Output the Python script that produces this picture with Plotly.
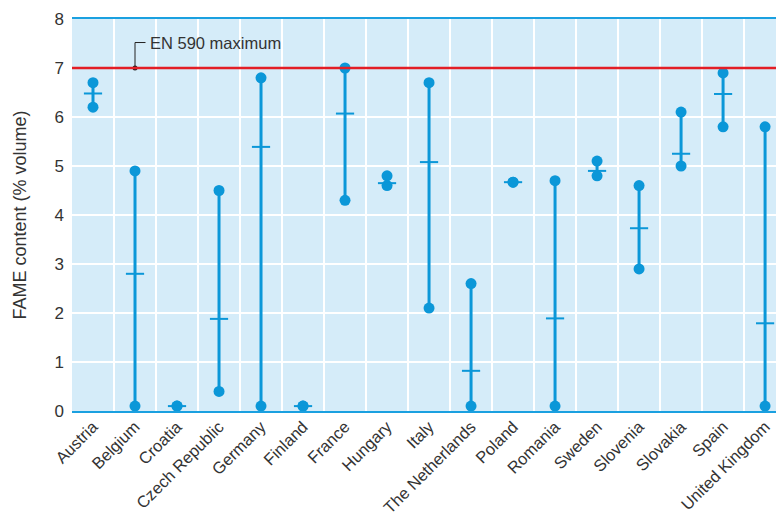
import plotly.graph_objects as go

countries = ["Austria", "Belgium", "Croatia", "Czech Republic", "Germany", "Finland",
             "France", "Hungary", "Italy", "The Netherlands", "Poland", "Romania",
             "Sweden", "Slovenia", "Slovakia", "Spain", "United Kingdom"]
fame_min = [6.2, 0.1, 0.1, 0.4, 0.1, 0.1, 4.3, 4.6, 2.1, 0.1, 4.67, 0.1, 4.8, 2.9, 5.0, 5.8, 0.1]
fame_max = [6.7, 4.9, 0.1, 4.5, 6.8, 0.1, 7.0, 4.8, 6.7, 2.6, 4.67, 4.7, 5.1, 4.6, 6.1, 6.9, 5.8]
fame_mean = [6.48, 2.8, 0.1, 1.88, 5.39, 0.1, 6.07, 4.65, 5.08, 0.82, 4.67, 1.89, 4.9, 3.73, 5.25, 6.47, 1.79]
en590_limit = 7.0
y_ticks = [0, 1, 2, 3, 4, 5, 6, 7, 8]

BLUE = "#0b97d8"
FONT = "Liberation Sans, Arial, sans-serif"

idx = list(range(len(countries)))

# vertical range lines
lx, ly = [], []
for i, lo, hi in zip(idx, fame_min, fame_max):
    lx += [i, i, None]
    ly += [lo, hi, None]

fig = go.Figure()
fig.add_trace(go.Scatter(x=lx, y=ly, mode="lines", line=dict(color=BLUE, width=3),
                         hoverinfo="skip", showlegend=False, cliponaxis=False))
fig.add_trace(go.Scatter(x=idx + idx, y=fame_min + fame_max, mode="markers",
                         marker=dict(color=BLUE, size=11), showlegend=False,
                         cliponaxis=False))
fig.add_trace(go.Scatter(x=idx, y=fame_mean, mode="markers",
                         marker=dict(symbol="line-ew", size=13,
                                     line=dict(color=BLUE, width=2)),
                         showlegend=False, cliponaxis=False))

# EN 590 limit line
fig.add_hline(y=en590_limit, line=dict(color="#e31e26", width=2.5), layer="above")

# leader for label
fig.add_trace(go.Scatter(x=[1, 1, 1.25], y=[en590_limit, 7.52, 7.52], mode="lines",
                         line=dict(color="#222222", width=1), hoverinfo="skip",
                         showlegend=False))
fig.add_trace(go.Scatter(x=[1], y=[en590_limit], mode="markers",
                         marker=dict(color="#222222", size=5), hoverinfo="skip",
                         showlegend=False))
fig.add_annotation(x=1.3, y=7.52, text="EN 590 maximum", showarrow=False,
                   xanchor="left", yanchor="middle",
                   font=dict(family=FONT, size=16.5, color="#333333"))

fig.update_layout(
    width=776, height=517,
    margin=dict(l=72, r=0, t=19, b=106),
    paper_bgcolor="white", plot_bgcolor="#d5ecf9",
    font=dict(family=FONT, color="#333333"),
    showlegend=False,
)
fig.update_xaxes(
    range=[-0.5, 16.26], automargin=False,
    tickmode="array", tickvals=idx, ticktext=countries, tickangle=-45,
    tickfont=dict(size=16.5, color="#333333"), ticklabelstandoff=-2,
    showgrid=False, zeroline=False,
    showline=True, linecolor="#1aa0e0", linewidth=1.5, mirror=True,
    ticks="",
    minor=dict(tickvals=[i + 0.5 for i in idx], showgrid=True,
               gridcolor="white", gridwidth=2, ticks=""),
)
fig.update_yaxes(
    range=[0, 8], tickvals=y_ticks, automargin=False,
    tickfont=dict(size=17, color="#333333"), ticklabelstandoff=7,
    showgrid=True, gridcolor="white", gridwidth=2, zeroline=False,
    showline=False, ticks="",
    title=dict(text="FAME content (% volume)", font=dict(size=18, color="#333333"),
               standoff=23),
)

fig.write_html("out.html", config={"displayModeBar": False},
               post_script="document.body.style.margin='0';")
